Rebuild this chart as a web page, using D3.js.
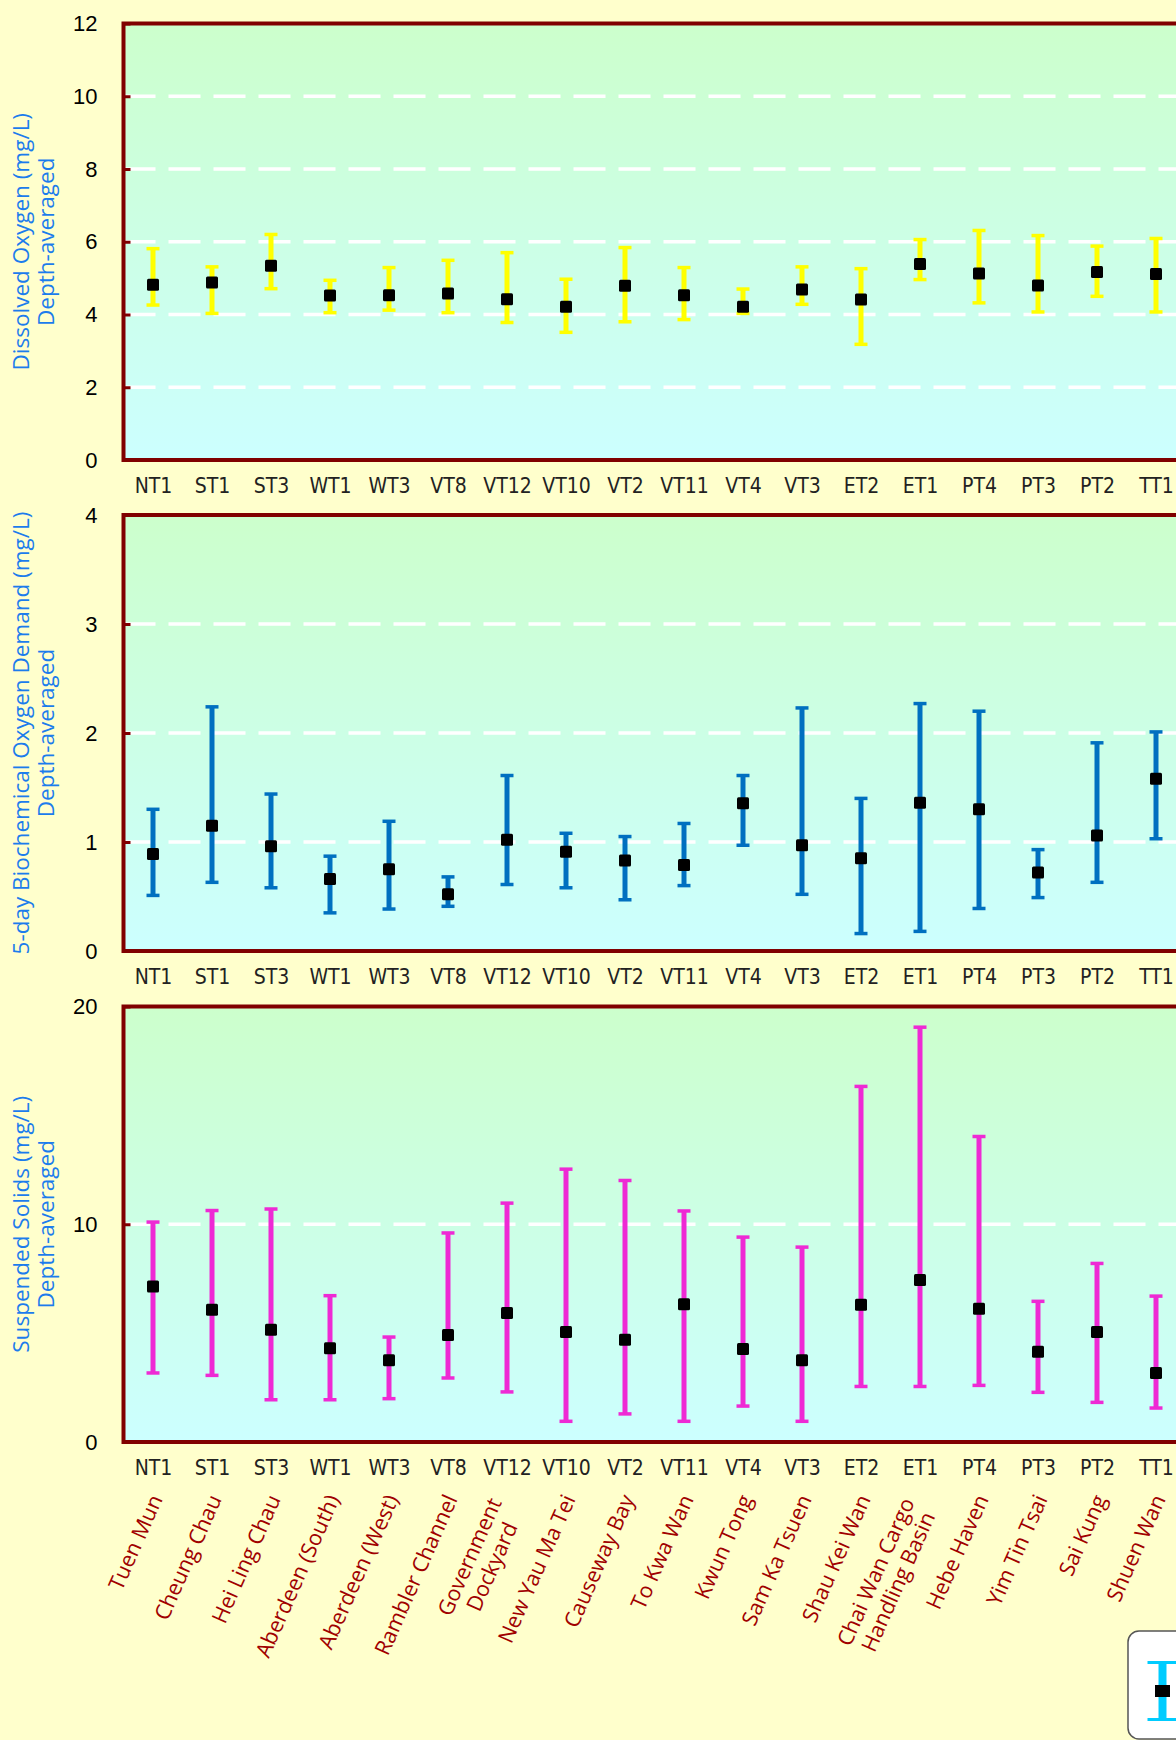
<!DOCTYPE html>
<html>
<head>
<meta charset="utf-8">
<script src="https://cdn.jsdelivr.net/npm/d3@7/dist/d3.min.js"></script>
<style>
  html, body { margin: 0; padding: 0; background: #FFFFCC; overflow: hidden; }
  svg { display: block; }
</style>
</head>
<body>
<svg id="chart" width="1176" height="1740"></svg>
<script>
// ---------------- DATA ----------------
const stationCodes = ["NT1","ST1","ST3","WT1","WT3","VT8","VT12","VT10","VT2","VT11","VT4","VT3","ET2","ET1","PT4","PT3","PT2","TT1"];
const stationNames = ["Tuen Mun","Cheung Chau","Hei Ling Chau","Aberdeen (South)","Aberdeen (West)","Rambler Channel","Government\nDockyard","New Yau Ma Tei","Causeway Bay","To Kwa Wan","Kwun Tong","Sam Ka Tsuen","Shau Kei Wan","Chai Wan Cargo\nHandling Basin","Hebe Haven","Yim Tin Tsai","Sai Kung","Shuen Wan"];

// Dissolved Oxygen (mg/L)
const doMean = [4.82,4.88,5.34,4.52,4.53,4.58,4.42,4.21,4.79,4.53,4.21,4.69,4.41,5.39,5.13,4.80,5.17,5.11];
const doMax  = [5.81,5.31,6.20,4.94,5.29,5.49,5.70,4.97,5.84,5.29,4.70,5.31,5.26,6.06,6.31,6.17,5.88,6.09];
const doMin  = [4.26,4.03,4.71,4.05,4.12,4.05,3.78,3.51,3.80,3.86,4.03,4.28,3.18,4.96,4.32,4.07,4.50,4.07];
const doTicks = [0,2,4,6,8,10,12];

// 5-day BOD (mg/L)
const bodMean = [0.89,1.15,0.96,0.66,0.75,0.52,1.02,0.91,0.83,0.79,1.355,0.97,0.85,1.36,1.30,0.72,1.06,1.58];
const bodMax  = [1.30,2.24,1.44,0.87,1.19,0.68,1.61,1.08,1.05,1.17,1.61,2.23,1.40,2.27,2.20,0.93,1.91,2.01];
const bodMin  = [0.51,0.63,0.58,0.35,0.385,0.41,0.61,0.58,0.47,0.60,0.97,0.52,0.16,0.18,0.39,0.49,0.63,1.03];
const bodTicks = [0,1,2,3,4];

// Suspended Solids (mg/L)
const ssMean = [7.14,6.07,5.16,4.30,3.75,4.91,5.92,5.05,4.70,6.33,4.27,3.75,6.30,7.44,6.12,4.15,5.05,3.17];
const ssMax  = [10.10,10.63,10.70,6.72,4.82,9.60,10.97,12.53,12.01,10.61,9.41,8.95,16.33,19.05,14.03,6.46,8.20,6.70];
const ssMin  = [3.17,3.06,1.94,1.94,1.99,2.94,2.30,0.95,1.29,0.95,1.65,0.95,2.55,2.55,2.60,2.28,1.82,1.56];
const ssTicks = [0,10,20];

const titles = [
  ["Dissolved Oxygen (mg/L)", "Depth-averaged"],
  ["5-day Biochemical Oxygen Demand (mg/L)", "Depth-averaged"],
  ["Suspended Solids (mg/L)", "Depth-averaged"]
];

// ---------------- LAYOUT ----------------
const svg = d3.select("#chart");
const plotLeft = 123.5, step = 59;
const plotRight = plotLeft + step * stationCodes.length;
const x = d3.scalePoint().domain(stationCodes).range([plotLeft, plotRight]).padding(0.5);

const panels = [
  { top: 23.5,  bottom: 460,  max: 12, ticks: doTicks,  mean: doMean,  lo: doMin,  hi: doMax,  color: "#FFFF00", title: titles[0] },
  { top: 515,   bottom: 951,  max: 4,  ticks: bodTicks, mean: bodMean, lo: bodMin, hi: bodMax, color: "#0070C0", title: titles[1] },
  { top: 1006.5,bottom: 1442, max: 20, ticks: ssTicks,  mean: ssMean,  lo: ssMin,  hi: ssMax,  color: "#EE2AD4", title: titles[2] }
];

const defs = svg.append("defs");
const grad = defs.append("linearGradient").attr("id", "bg").attr("x1", 0).attr("y1", 0).attr("x2", 0).attr("y2", 1);
grad.append("stop").attr("offset", "0%").attr("stop-color", "#CCFFCC");
grad.append("stop").attr("offset", "100%").attr("stop-color", "#CCFFFF");

const numFont = "'Liberation Sans', Arial, sans-serif";
const narrowFont = "'Liberation Sans Narrow', 'Arial Narrow', 'DejaVu Sans Condensed', sans-serif";
const humanFont = "'Open Sans', 'Noto Sans', sans-serif";

panels.forEach((p, pi) => {
  const y = d3.scaleLinear().domain([0, p.max]).range([p.bottom, p.top]);
  const g = svg.append("g");

  g.append("rect")
    .attr("x", plotLeft).attr("y", p.top)
    .attr("width", plotRight - plotLeft).attr("height", p.bottom - p.top)
    .attr("fill", "url(#bg)");

  // grid lines
  g.append("g").selectAll("line")
    .data(p.ticks.filter(t => t > 0 && t < p.max))
    .join("line")
    .attr("x1", plotLeft).attr("x2", plotRight)
    .attr("y1", d => y(d)).attr("y2", d => y(d))
    .attr("stroke", "#FFFFFF").attr("stroke-width", 3.5)
    .attr("stroke-dasharray", "32 13");

  // inner tick stubs
  const stub = g.append("g").attr("transform", `translate(${plotLeft},0)`)
    .call(d3.axisLeft(y).tickValues(p.ticks).tickSize(-7).tickFormat(""));
  stub.select(".domain").remove();
  stub.selectAll(".tick line").attr("stroke", "#800000").attr("stroke-width", 3);

  // border
  g.append("rect")
    .attr("x", plotLeft).attr("y", p.top)
    .attr("width", plotRight - plotLeft).attr("height", p.bottom - p.top)
    .attr("fill", "none").attr("stroke", "#800000").attr("stroke-width", 4);

  // y axis labels
  const ya = g.append("g").attr("transform", `translate(${plotLeft},0)`)
    .call(d3.axisLeft(y).tickValues(p.ticks).tickSize(0).tickPadding(26).tickFormat(d3.format("d")));
  ya.select(".domain").remove();
  ya.selectAll("text").attr("font-family", numFont).attr("font-size", 22).attr("fill", "#000");

  // x axis labels
  const xa = g.append("g").attr("transform", `translate(0,${p.bottom})`)
    .call(d3.axisBottom(x).tickSize(0).tickPadding(18));
  xa.select(".domain").remove();
  xa.selectAll("text").attr("font-family", narrowFont).attr("font-size", 21)
    .attr("font-stretch", "condensed").attr("fill", "#222");

  // y title
  const cy = (p.top + p.bottom) / 2;
  const tg = g.append("text")
    .attr("transform", `translate(29,${cy}) rotate(-90)`)
    .attr("text-anchor", "middle")
    .attr("font-family", humanFont).attr("font-size", 22.5)
    .attr("fill", "#1C7CEC");
  tg.append("tspan").attr("x", 0).attr("dy", 0).text(p.title[0]);
  tg.append("tspan").attr("x", 0).attr("dy", 25).text(p.title[1]);

  // error bars
  const capW = 13;
  const eb = g.append("g").selectAll("g").data(stationCodes).join("g");
  eb.append("line")
    .attr("x1", d => x(d)).attr("x2", d => x(d))
    .attr("y1", (d, i) => y(p.hi[i])).attr("y2", (d, i) => y(p.lo[i]))
    .attr("stroke", p.color).attr("stroke-width", 5);
  eb.append("line")
    .attr("x1", d => x(d) - capW / 2).attr("x2", d => x(d) + capW / 2)
    .attr("y1", (d, i) => y(p.hi[i])).attr("y2", (d, i) => y(p.hi[i]))
    .attr("stroke", p.color).attr("stroke-width", 3.5);
  eb.append("line")
    .attr("x1", d => x(d) - capW / 2).attr("x2", d => x(d) + capW / 2)
    .attr("y1", (d, i) => y(p.lo[i])).attr("y2", (d, i) => y(p.lo[i]))
    .attr("stroke", p.color).attr("stroke-width", 3.5);
  eb.append("rect")
    .attr("x", d => x(d) - 6).attr("y", (d, i) => y(p.mean[i]) - 6)
    .attr("width", 12).attr("height", 12).attr("rx", 1.5)
    .attr("fill", "#000");
});

// station names, rotated
const lastBottom = panels[2].bottom;
const ang = -66;
const nameG = svg.append("g").selectAll("g").data(stationCodes).join("g")
  .attr("transform", (d, i) => {
    const multi = stationNames[i].includes("\n");
    let px = x(d) + 10, py = lastBottom + 57;
    if (multi) { px += -3.8; py += 8.2; }
    return `translate(${px},${py}) rotate(${ang})`;
  });
nameG.each(function(d, i) {
  const lines = stationNames[i].split("\n");
  const sel = d3.select(this);
  const lh = 24.5;
  const n = lines.length;
  const texts = lines.map((l, k) => sel.append("text")
    .attr("text-anchor", "end")
    .attr("font-family", humanFont).attr("font-size", 21.5)
    .attr("fill", "#A00000")
    .attr("y", (k - (n - 1) / 2) * lh)
    .text(l));
  if (n > 1) {
    const ws = texts.map(t => t.node().getComputedTextLength());
    const mw = Math.max(...ws);
    texts.forEach((t, k) => t.attr("x", -(mw - ws[k]) / 2));
  }
});

// legend (partially off-canvas)
const lg = svg.append("g");
lg.append("rect").attr("x", 1128).attr("y", 1631).attr("width", 120).attr("height", 108)
  .attr("rx", 11).attr("fill", "#FFFFFF").attr("stroke", "#555").attr("stroke-width", 1.5);
const lx = 1162.5, lt = 1662.5, lb = 1719.5;
lg.append("line").attr("x1", lx).attr("x2", lx).attr("y1", lt).attr("y2", lb)
  .attr("stroke", "#00CCFF").attr("stroke-width", 8);
lg.append("line").attr("x1", lx - 15).attr("x2", lx + 15).attr("y1", lt).attr("y2", lt)
  .attr("stroke", "#00CCFF").attr("stroke-width", 3);
lg.append("line").attr("x1", lx - 15).attr("x2", lx + 15).attr("y1", lb).attr("y2", lb)
  .attr("stroke", "#00CCFF").attr("stroke-width", 3);
lg.append("rect").attr("x", lx - 7.5).attr("y", 1685).attr("width", 15).attr("height", 12).attr("fill", "#000");
</script>
</body>
</html>
